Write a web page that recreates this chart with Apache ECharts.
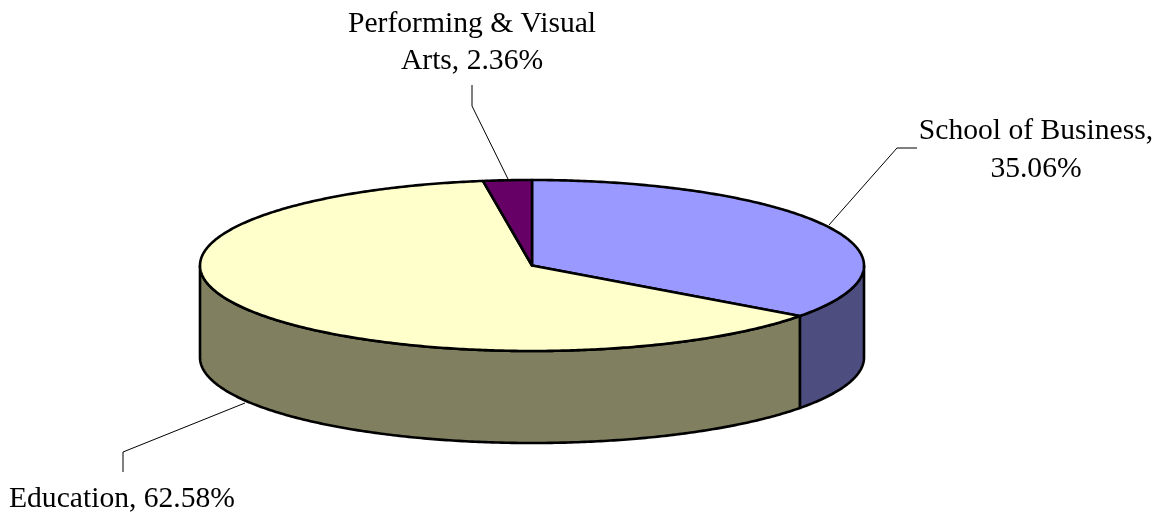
<!DOCTYPE html>
<html>
<head>
<meta charset="utf-8">
<style>html,body{margin:0;padding:0;background:#fff}#chart{width:1167px;height:513px}</style>
<script src="https://cdn.jsdelivr.net/npm/echarts@6/dist/echarts.min.js"></script>
</head>
<body>
<div id="chart"></div>
<script>
var categories = ['School of Business', 'Education', 'Performing & Visual Arts'];
var values = [35.06, 62.58, 2.36];
var labelTexts = ['School of Business,\n35.06%', 'Education, 62.58%', 'Performing & Visual\nArts, 2.36%'];
var topColors = ['#9999ff', '#ffffcc', '#660066'];
var sideColors = ['#4d4d80', '#808060', '#330033'];

var CX = 532, CY = 265.5, RX = 332, RY = 85.5, DEPTH = 92;
var FONT = '"Liberation Serif","Times New Roman",serif';
var leaders = [
  [[829, 225], [897, 148], [917, 148]],
  [[245, 403], [123, 452], [123, 472]],
  [[508, 179], [472, 106], [472, 85]]
];
var labelPos = [[1036, 150], [122, 499], [472, 42.5]];

var total = values.reduce(function (a, b) { return a + b; }, 0);
var ranges = [];
(function () {
  var acc = 0;
  values.forEach(function (v) {
    ranges.push([acc / total * 2 * Math.PI, (acc + v) / total * 2 * Math.PI]);
    acc += v;
  });
})();

function pt(t, dy) {
  return [CX + RX * Math.sin(t), CY - RY * Math.cos(t) + (dy || 0)];
}
function arc(a, b, dy) {
  var n = Math.max(2, Math.ceil((b - a) / 0.01)), out = [];
  for (var i = 0; i <= n; i++) out.push(pt(a + (b - a) * i / n, dy));
  return out;
}
var lineStyle = { stroke: '#000', lineWidth: 2.6, lineJoin: 'round' };

function sideEl(i) {
  var a = Math.max(ranges[i][0], Math.PI / 2), b = Math.min(ranges[i][1], 3 * Math.PI / 2);
  if (b <= a) return null;
  var pts = arc(a, b, 0).concat(arc(a, b, DEPTH).reverse());
  return { type: 'polygon', z2: 1, shape: { points: pts },
    style: Object.assign({ fill: sideColors[i] }, lineStyle) };
}
function topEl(i) {
  var pts = [[CX, CY]].concat(arc(ranges[i][0], ranges[i][1], 0));
  return { type: 'polygon', z2: 2, shape: { points: pts },
    style: Object.assign({ fill: topColors[i] }, lineStyle) };
}

var option = {
  animation: false,
  backgroundColor: '#fff',
  series: [{
    type: 'custom',
    coordinateSystem: 'none',
    silent: true,
    data: values.map(function (v, i) { return { name: categories[i], value: v }; }),
    renderItem: function (params) {
      var i = params.dataIndex, kids = [];
      var s = sideEl(i);
      if (s) kids.push(s);
      kids.push(topEl(i));
      kids.push({ type: 'polyline', z2: 0, shape: { points: leaders[i] },
        style: { stroke: '#000', lineWidth: 1, fill: null } });
      kids.push({ type: 'text', z2: 3, x: labelPos[i][0], y: labelPos[i][1],
        style: { text: labelTexts[i], fill: '#000', font: '29.6px ' + FONT,
          lineHeight: 37.5, align: 'center', verticalAlign: 'middle' } });
      return { type: 'group', children: kids };
    }
  }]
};
var chart = echarts.init(document.getElementById('chart'), null, { renderer: 'canvas' });
chart.setOption(option);
</script>
</body>
</html>
